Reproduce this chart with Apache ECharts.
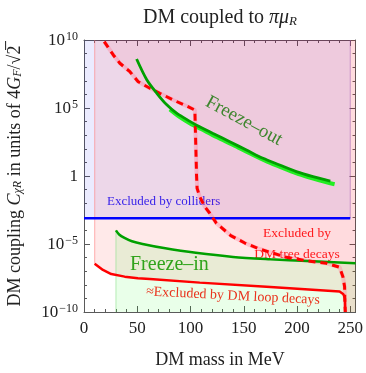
<!DOCTYPE html>
<html><head><meta charset="utf-8">
<script src="https://cdn.jsdelivr.net/npm/echarts@6/dist/echarts.min.js"></script>
<style>html,body{margin:0;padding:0;background:#fff}#c{width:366px;height:373px}</style>
</head><body><div id="c"></div>
<script>
const FONT = 'Liberation Serif';
// x = DM mass in MeV, y = log10 of the coupling
const treeDecayX    = [19.0, 27.5, 33.7, 43.1, 50.9, 61.9, 71.2, 83.7, 96.3, 104.1, 105.7, 105.7, 106.2, 108.7, 113.4, 118.1, 124.4, 137.8, 151.0, 165.0, 190.0, 208.8, 227.5, 240.0, 243.1, 244.7, 244.9, 245.3];
const treeDecayLogY = [9.88, 8.90, 8.29, 7.67, 6.93, 6.45, 6.08, 5.59, 5.15, 4.85, 4.75, 0.00, -0.90, -1.52, -2.26, -2.74, -3.48, -4.38, -4.93, -5.37, -5.98, -6.23, -6.42, -6.71, -7.40, -8.14, -9.12, -10.0];
const loopDecayX    = [10.0, 17.8, 25.6, 38.2, 50.6, 61.9, 108.7, 171.3, 240.0, 243.6, 245.0, 245.3];
const loopDecayLogY = [-6.45, -6.91, -7.21, -7.40, -7.52, -7.57, -7.84, -8.14, -8.50, -8.70, -9.00, -10.0];
const freezeInX     = [30, 33, 38, 45, 55, 75, 105, 140, 175, 210, 255];
const freezeInLogY  = [-4.0, -4.3, -4.55, -4.8, -5.0, -5.3, -5.65, -5.95, -6.12, -6.25, -6.42];
const freezeOutX    = [49.4, 58.8, 68.2, 77.5, 86.9, 99.4, 105.7, 121.2, 136.9, 152.5, 168.1, 183.7, 199.4, 215.0, 231.3];
const freezeOutLogY = [8.60, 7.10, 6.10, 5.25, 4.62, 4.02, 3.74, 3.13, 2.52, 1.91, 1.30, 0.81, 0.32, -0.05, -0.37];
const freezeOut2X   = [80.6, 90, 100, 110, 125, 140, 156, 172, 188, 204, 220, 235.3];
const freezeOut2LogY= [4.90, 4.33, 3.85, 3.45, 2.85, 2.28, 1.65, 1.05, 0.55, 0.08, -0.30, -0.61];
const colliderX     = [0, 250];
const colliderLogY  = [-3.1, -3.1];
const regionStartX  = { loop: 10, freezeIn: 30 };
const yTickExponents = [-10, -5, 0, 5, 10];
const xTicks = [0, 50, 100, 150, 200, 250];

const zip = (xs, ys) => xs.map((x, i) => [x, ys[i]]);
const tree = zip(treeDecayX, treeDecayLogY);
const loop = zip(loopDecayX, loopDecayLogY);
const fin = zip(freezeInX, freezeInLogY);
const fout = zip(freezeOutX, freezeOutLogY);
const fout2 = zip(freezeOut2X, freezeOut2LogY);
const coll = zip(colliderX, colliderLogY);

const axisCol = '#5a5a5a';
function baseX(pos, labels) {
  return { type: 'value', position: pos, min: 0, max: 255, interval: 50,
    axisLine: { show: true, onZero: false, lineStyle: { color: axisCol, width: 1 } },
    axisTick: { show: true, inside: true, length: 6, lineStyle: { color: axisCol } },
    minorTick: { show: true, splitNumber: 5, length: 3, lineStyle: { color: axisCol } },
    splitLine: { show: false }, minorSplitLine: { show: false },
    axisLabel: { show: labels, color: '#222', fontFamily: FONT, fontSize: 17, margin: 8, showMaxLabel: false,
      formatter: v => xTicks.includes(v) ? String(v) : '' } };
}
function baseY(pos, labels) {
  return { type: 'value', position: pos, min: -10, max: 10, interval: 5,
    axisLine: { show: true, onZero: false, lineStyle: { color: axisCol, width: 1 } },
    axisTick: { show: true, inside: true, length: 6, lineStyle: { color: axisCol } },
    minorTick: { show: true, splitNumber: 5, length: 3, lineStyle: { color: axisCol } },
    splitLine: { show: false }, minorSplitLine: { show: false },
    axisLabel: { show: labels, color: '#222', fontFamily: FONT, margin: 6,
      formatter: v => {
        if (!yTickExponents.includes(v)) return '';
        if (v === 0) return '{b|1}';
        return '{b|10}{s|' + (v < 0 ? '\u2212' + (-v) : v) + '}';
      },
      rich: { b: { fontFamily: FONT, fontSize: 17, color: '#222', verticalAlign: 'bottom', lineHeight: 19 },
              s: { fontFamily: FONT, fontSize: 12, color: '#222', verticalAlign: 'top', lineHeight: 19, padding: [0,0,0,1] } } } };
}

const line = (name, data, color, width, extra) => Object.assign({
  type: 'line', name, data, showSymbol: false, symbol: 'none', silent: true, animation: false,
  lineStyle: { color, width }, xAxisIndex: 0, yAxisIndex: 0 }, extra || {});

const series = [
  line('collRegion', coll, 'rgba(0,0,0,0)', 0, { areaStyle: { color: 'rgba(0,0,255,0.11)', origin: 'end' }, z: 1 }),
  line('collEdge', [[250, -3.1], [250, 10]], 'rgba(140,100,200,0.5)', 1, { z: 1 }),
  line('loopRegion', loop.concat([[255, -10]]), 'rgba(0,0,0,0)', 0, { areaStyle: { color: 'rgba(255,0,0,0.12)', origin: 'end' }, z: 2 }),
  line('loopEdge', [[regionStartX.loop, loopDecayLogY[0]], [regionStartX.loop, 10]], 'rgba(255,110,110,0.45)', 1.2, { z: 2 }),
  line('treeRegion', tree.concat([[255, -10]]), 'rgba(0,0,0,0)', 0, { areaStyle: { color: 'rgba(255,0,40,0.09)', origin: 'end' }, z: 3 }),
  line('finRegion', fin, 'rgba(0,0,0,0)', 0, { areaStyle: { color: 'rgba(0,255,0,0.12)', origin: 'start' }, z: 4 }),
  line('finEdge', [[regionStartX.freezeIn, -10], [regionStartX.freezeIn, freezeInLogY[0]]], 'rgba(120,220,120,0.5)', 1, { z: 4 }),
  line('treeHalo', tree, 'rgba(255,120,150,0.35)', 4, { z: 5 }),
  line('collider', coll, '#0000ff', 2.5, { z: 10 }),
  line('freezeIn', fin, '#00a000', 2.5, { z: 10, smooth: 0.3 }),
  line('loopDecay', loop, '#ff0000', 2.5, { z: 10 }),
  line('treeDecay', tree, '#ff0000', 3, { z: 11, lineStyle: { color: '#ff0000', width: 3, type: [7, 5] } }),
  line('freezeOutBright', fout2, '#22ee22', 4, { z: 10, smooth: 0.3 }),
  line('freezeOut', fout, '#00a000', 2.8, { z: 11, smooth: 0.3 })
];

const chart = echarts.init(document.getElementById('c'), null, { renderer: 'canvas' });
chart.setOption({
  animation: false,
  grid: { left: 84, right: 10, top: 40, bottom: 61, containLabel: false },
  xAxis: [baseX('bottom', true), baseX('top', false)],
  yAxis: [baseY('left', true), baseY('right', false)],
  series,
  graphic: [
    { type: 'text', x: 220, y: 16, style: { text: '{n|DM coupled to }{i|\u03c0\u03bc}{sub|R}', textAlign: 'center', textVerticalAlign: 'middle',
      rich: { n: { fontFamily: FONT, fontSize: 20, fill: '#222', verticalAlign: 'bottom', lineHeight: 24 },
              i: { fontFamily: FONT, fontSize: 20, fontStyle: 'italic', fill: '#222', verticalAlign: 'bottom', lineHeight: 24 },
              sub: { fontFamily: FONT, fontSize: 13, fontStyle: 'italic', fill: '#222', verticalAlign: 'bottom', lineHeight: 18 } } } },
    { type: 'text', x: 220, y: 360, style: { text: 'DM mass in MeV', font: '18px "Liberation Serif"', fill: '#222', textAlign: 'center', textVerticalAlign: 'middle' } },
    { type: 'text', x: 13, y: 176, rotation: Math.PI / 2, style: {
      text: '{n|DM coupling }{i|C}{sub|\u03c7R}{n| in units of 4}{i|G}{sub|F}{n|/\u221a2\u0305}',
      textAlign: 'center', textVerticalAlign: 'middle',
      rich: { n: { fontFamily: FONT, fontSize: 18, fill: '#222', verticalAlign: 'bottom', lineHeight: 22 },
              i: { fontFamily: FONT, fontSize: 18, fontStyle: 'italic', fill: '#222', verticalAlign: 'bottom', lineHeight: 22 },
              sub: { fontFamily: FONT, fontSize: 12, fontStyle: 'italic', fill: '#222', verticalAlign: 'bottom', lineHeight: 16 } } } },
    { type: 'text', x: 107, y: 202, style: { text: 'Excluded by colliders', font: '13px "Liberation Serif"', fill: '#2a2aff', textVerticalAlign: 'middle' } },
    { type: 'text', x: 297, y: 233, style: { text: 'Excluded by', font: '13.5px "Liberation Serif"', fill: '#ff2020', textAlign: 'center', textVerticalAlign: 'middle' } },
    { type: 'text', x: 297, y: 254, style: { text: 'DM tree decays', font: '13.5px "Liberation Serif"', fill: '#ff2020', textAlign: 'center', textVerticalAlign: 'middle' } },
    { type: 'text', x: 130, y: 265, style: { text: 'Freeze\u2013in', font: '20px "Liberation Serif"', fill: '#22aa22', textVerticalAlign: 'middle' } },
    { type: 'text', x: 244, y: 121, rotation: -0.5, style: { text: 'Freeze\u2013out', font: '19px "Liberation Serif"', fill: '#22aa22', textAlign: 'center', textVerticalAlign: 'middle' } },
    { type: 'text', x: 233, y: 296, rotation: -0.05, style: { text: '\u2248Excluded by DM loop decays', font: '14px "Liberation Serif"', fill: '#ff2020', textAlign: 'center', textVerticalAlign: 'middle' } }
  ]
});
</script></body></html>
